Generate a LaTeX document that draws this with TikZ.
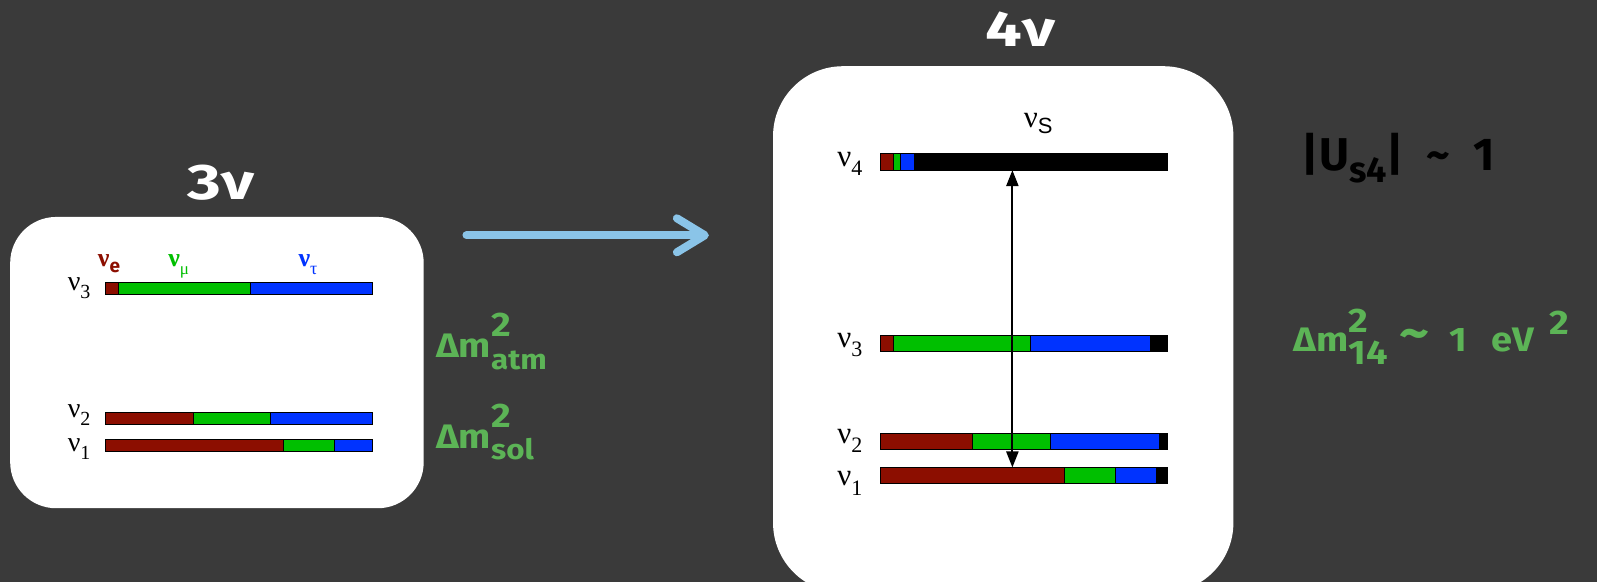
\documentclass[tikz,border=0pt]{standalone}
\usepackage{fontspec}
\usepackage{amsmath}
\usetikzlibrary{arrows.meta}
\newfontfamily\comicfont{Fira Sans}
\newfontfamily\serifnu{Liberation Serif}
\newfontfamily\sansnu{Liberation Sans}
\definecolor{bgcol}{RGB}{58,58,58}
\definecolor{nred}{RGB}{140,14,0}
\definecolor{ngreen}{RGB}{0,191,0}
\definecolor{nblue}{RGB}{0,51,255}
\definecolor{arrowblue}{RGB}{138,196,232}
\definecolor{txtgreen}{RGB}{92,180,86}
\tikzset{
 seg/.style={draw=black, line width=0.6pt},
 titletxt/.style={text=white, font=\comicfont\bfseries\fontsize{50}{50}\selectfont, inner sep=0, anchor=base, xscale=1.3},
 greenlbl/.style={text=txtgreen, font=\comicfont\bfseries\fontsize{34}{34}\selectfont, inner sep=0, anchor=base west, xscale=1.12},
 nulbl/.style={font=\serifnu\fontsize{28}{28}\selectfont, inner sep=0, anchor=base east},
 nulblR/.style={font=\serifnu\fontsize{31}{31}\selectfont, inner sep=0, anchor=base east},
 flavlbl/.style={font=\serifnu\bfseries\fontsize{26}{26}\selectfont, inner sep=0, anchor=base west},
 bigarrow/.style={arrowblue, line width=8pt, line cap=round, -{Straight Barb[length=28pt,width=34pt,round]}},
 dblarrow/.style={line width=2.2pt, {Triangle[length=16pt,width=12pt]}-{Triangle[length=16pt,width=12pt]}},
}
\begin{document}
\begin{tikzpicture}[x=1.0185pt,y=-1.0185pt]
\useasboundingbox (0,0) rectangle (1568,571);
\clip (0,0) rectangle (1568,571);
\fill[bgcol] (0,0) rectangle (1568,571);
% panels
\fill[white, rounded corners=46pt] (10,213) rectangle (416,499);
\fill[white, rounded corners=70pt] (759,65) rectangle (1211,582);
% titles
\node[titletxt] (t3) at (217,196) {3ν};
\node[titletxt] (t4) at (1002,46) {4ν};
% left bars
\foreach \a/\b/\c in {103/116/nred,116/246/ngreen,246/366/nblue}
  \draw[seg, fill=\c] (\a,277) rectangle (\b,289);
\foreach \a/\b/\c in {103/190/nred,190/265/ngreen,265/366/nblue}
  \draw[seg, fill=\c] (\a,405) rectangle (\b,417);
\foreach \a/\b/\c in {103/278/nred,278/328/ngreen,328/366/nblue}
  \draw[seg, fill=\c] (\a,431) rectangle (\b,443);
\node[nulbl] (l3) at (89,285) {ν\raisebox{-0.3em}{\fontsize{20}{20}\selectfont 3}};
\node[nulbl] (l2) at (89,410) {ν\raisebox{-0.3em}{\fontsize{20}{20}\selectfont 2}};
\node[nulbl] (l1) at (89,443) {ν\raisebox{-0.3em}{\fontsize{20}{20}\selectfont 1}};
\node[flavlbl, text=nred] (fe) at (96,262) {ν\raisebox{-0.22em}{\comicfont\bfseries\fontsize{19}{19}\selectfont e}};
\node[flavlbl, text=ngreen] (fm) at (165,262) {ν\raisebox{-0.28em}{\mdseries\fontsize{17}{17}\selectfont μ}};
\node[flavlbl, text=nblue] (ft) at (293,262) {ν\raisebox{-0.28em}{\mdseries\fontsize{18}{18}\selectfont τ}};
% right bars
\foreach \a/\b/\c in {864/877/nred,877/884/ngreen,884/898/nblue,898/1146/black}
  \draw[seg, fill=\c] (\a,151) rectangle (\b,167);
\foreach \a/\b/\c in {864/877/nred,877/1012/ngreen,1012/1129/nblue,1129/1146/black}
  \draw[seg, fill=\c] (\a,329) rectangle (\b,345);
\foreach \a/\b/\c in {864/955/nred,955/1031/ngreen,1031/1138/nblue,1138/1146/black}
  \draw[seg, fill=\c] (\a,425) rectangle (\b,441);
\foreach \a/\b/\c in {864/1045/nred,1045/1095/ngreen,1095/1135/nblue,1135/1146/black}
  \draw[seg, fill=\c] (\a,459) rectangle (\b,475);
\node[nulblR] (r4) at (847,163) {ν\raisebox{-0.3em}{\fontsize{22}{22}\selectfont 4}};
\node[nulblR] (r3) at (847,341) {ν\raisebox{-0.3em}{\fontsize{22}{22}\selectfont 3}};
\node[nulblR] (r2) at (847,435) {ν\raisebox{-0.3em}{\fontsize{22}{22}\selectfont 2}};
\node[nulblR] (r1) at (847,477) {ν\raisebox{-0.3em}{\fontsize{22}{22}\selectfont 1}};
\node[font=\serifnu\fontsize{31}{31}\selectfont, inner sep=0, anchor=base west] (rs) at (1005,125) {ν\raisebox{-0.2em}{\sansnu\fontsize{22}{22}\selectfont S}};
% double arrow
\coordinate (v4bot) at (994,167);
\coordinate (v1top) at (994,459);
\draw[dblarrow] (v4bot) -- (v1top);
% big arrow
\coordinate (arrS) at (458,231);
\coordinate (arrE) at (696,231);
\draw[bigarrow] (arrS) -- (arrE);
% green labels
\node[greenlbl] (datm) at (428,351) {Δm\rlap{\raisebox{0.62em}{2}}\raisebox{-0.34em}{\fontsize{28}{28}\selectfont atm}};
\node[greenlbl] (dsol) at (428,440) {Δm\rlap{\raisebox{0.62em}{2}}\raisebox{-0.34em}{\fontsize{28}{28}\selectfont sol}};
\node[greenlbl] (d14) at (1270,345) {Δm\rlap{\raisebox{0.56em}{2}}\raisebox{-0.38em}{14}\hspace{10pt}\raisebox{0.02em}{\fontsize{52}{52}\selectfont\textasciitilde}\hspace{18pt}1\hspace{22pt}eV\hspace{14pt}\raisebox{0.5em}{2}};
\node[anchor=base west, inner sep=0, font=\comicfont\bfseries\fontsize{46}{46}\selectfont, text=black] (us4) at (1278,167) {|U\raisebox{-0.28em}{\fontsize{36}{36}\selectfont s4}|\hspace{22pt}\textasciitilde\hspace{24pt}1};
\end{tikzpicture}
\end{document}
